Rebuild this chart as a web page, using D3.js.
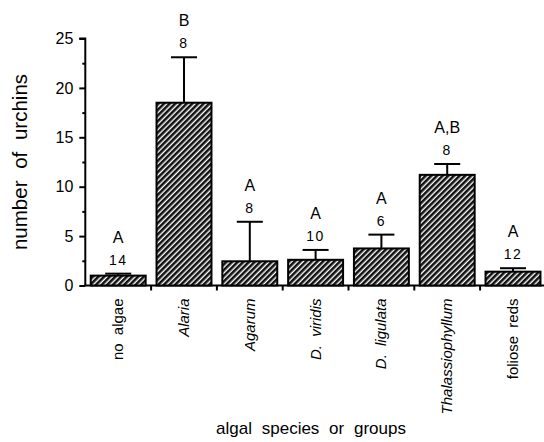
<!DOCTYPE html>
<html>
<head>
<meta charset="utf-8">
<script src="https://cdn.jsdelivr.net/npm/d3@7"></script>
<style>
  body { margin: 0; background: #fff; }
  svg text { font-family: "Liberation Sans", Arial, Helvetica, sans-serif; fill: #000; }
</style>
</head>
<body>
<div id="chart"></div>
<script>
var categories = ["no algae", "Alaria", "Agarum", "D. viridis", "D. ligulata", "Thalassiophyllum", "foliose reds"];
var italicCats = [false, true, true, true, true, true, false];
var means = [1.0, 18.5, 2.45, 2.6, 3.75, 11.2, 1.4];
var upperErr = [1.2, 23.1, 6.45, 3.6, 5.15, 12.3, 1.75];
var nValues = ["14", "8", "8", "10", "6", "8", "12"];
var letters = ["A", "B", "A", "A", "A", "A,B", "A"];
var majorTicks = [0, 5, 10, 15, 20, 25];
var minorTicks = [2.5, 7.5, 12.5, 17.5, 22.5];

var width = 544, height = 442;
var plotLeft = 85.3, plotBottom = 285.5, plotTop = 38.5;

var svg = d3.select("#chart").append("svg")
    .attr("width", width)
    .attr("height", height);

// hatch pattern for bars
var pat = svg.append("defs").append("pattern")
    .attr("id", "hatch")
    .attr("patternUnits", "userSpaceOnUse")
    .attr("width", 4)
    .attr("height", 4)
    .attr("patternTransform", "rotate(45)");
pat.append("rect").attr("width", 4).attr("height", 4).attr("fill", "#fff");
pat.append("rect").attr("x", 0).attr("width", 2.6).attr("height", 4).attr("fill", "#111");

var x = d3.scaleBand()
    .domain(categories)
    .range([plotLeft, plotLeft + 7 * 65.8])
    .paddingInner(0.165)
    .paddingOuter(0.0825);

var y = d3.scaleLinear().domain([0, 25]).range([plotBottom, plotTop]);

// y axis
var yAxis = svg.append("g")
    .attr("transform", "translate(" + plotLeft + ",0)")
    .call(d3.axisLeft(y).tickValues(majorTicks).tickSize(6).tickPadding(6).tickFormat(d3.format("d")));
yAxis.select(".domain").attr("stroke-width", 2).attr("d", "M-6," + plotTop + "H0V" + plotBottom);
yAxis.selectAll(".tick line").attr("stroke-width", 2);
yAxis.selectAll(".tick text").attr("font-size", 16).attr("font-family", "Liberation Sans, Arial, sans-serif");

var yMinor = svg.append("g")
    .attr("transform", "translate(" + plotLeft + ",0)")
    .call(d3.axisLeft(y).tickValues(minorTicks).tickSize(3).tickFormat(""));
yMinor.select(".domain").remove();
yMinor.selectAll(".tick line").attr("stroke-width", 2);

// x axis line and boundary ticks
svg.append("line")
    .attr("x1", plotLeft - 1).attr("x2", width)
    .attr("y1", plotBottom).attr("y2", plotBottom)
    .attr("stroke", "#000").attr("stroke-width", 2);

var step = x.step();
svg.selectAll(".xtick")
    .data(categories.slice(1))
    .enter().append("line")
    .attr("class", "xtick")
    .attr("x1", function(d) { return x(d) - x.paddingInner() * step / 2; })
    .attr("x2", function(d) { return x(d) - x.paddingInner() * step / 2; })
    .attr("y1", plotBottom).attr("y2", plotBottom + 5)
    .attr("stroke", "#000").attr("stroke-width", 2);

// bars
svg.selectAll(".bar")
    .data(categories)
    .enter().append("rect")
    .attr("class", "bar")
    .attr("x", function(d) { return x(d); })
    .attr("width", x.bandwidth())
    .attr("y", function(d, i) { return y(means[i]); })
    .attr("height", function(d, i) { return plotBottom - y(means[i]); })
    .attr("fill", "url(#hatch)")
    .attr("stroke", "#000")
    .attr("stroke-width", 2);

// error bars (upper only)
var cx = function(d) { return x(d) + x.bandwidth() / 2; };
svg.selectAll(".err")
    .data(categories)
    .enter().append("line")
    .attr("x1", cx).attr("x2", cx)
    .attr("y1", function(d, i) { return y(means[i]); })
    .attr("y2", function(d, i) { return y(upperErr[i]); })
    .attr("stroke", "#000").attr("stroke-width", 2);
svg.selectAll(".cap")
    .data(categories)
    .enter().append("line")
    .attr("x1", function(d) { return cx(d) - 13; })
    .attr("x2", function(d) { return cx(d) + 13; })
    .attr("y1", function(d, i) { return y(upperErr[i]); })
    .attr("y2", function(d, i) { return y(upperErr[i]); })
    .attr("stroke", "#000").attr("stroke-width", 2);

// n and letter labels
svg.selectAll(".nlab")
    .data(categories)
    .enter().append("text")
    .attr("x", cx)
    .attr("y", function(d, i) { return y(upperErr[i]) - 9; })
    .attr("text-anchor", "middle")
    .attr("font-size", 14)
    .attr("letter-spacing", 1.5)
    .text(function(d, i) { return nValues[i]; });
svg.selectAll(".let")
    .data(categories)
    .enter().append("text")
    .attr("x", cx)
    .attr("y", function(d, i) { return y(upperErr[i]) - 31; })
    .attr("text-anchor", "middle")
    .attr("font-size", 16)
    .text(function(d, i) { return letters[i]; });

// category labels
svg.selectAll(".cat")
    .data(categories)
    .enter().append("text")
    .attr("transform", function(d) { return "translate(" + (cx(d) + 5) + "," + (plotBottom + 13) + ")rotate(-90)"; })
    .attr("text-anchor", "end")
    .attr("font-size", 15)
    .attr("font-style", function(d, i) { return italicCats[i] ? "italic" : "normal"; })
    .attr("word-spacing", 4)
    .text(function(d) { return d; });

// axis titles
svg.append("text")
    .attr("transform", "translate(27,162)rotate(-90)")
    .attr("text-anchor", "middle")
    .attr("font-size", 20.5)
    .attr("word-spacing", 6)
    .text("number of urchins");

svg.append("text")
    .attr("x", 311)
    .attr("y", 434)
    .attr("text-anchor", "middle")
    .attr("font-size", 17)
    .attr("word-spacing", 5)
    .text("algal species or groups");
</script>
</body>
</html>
